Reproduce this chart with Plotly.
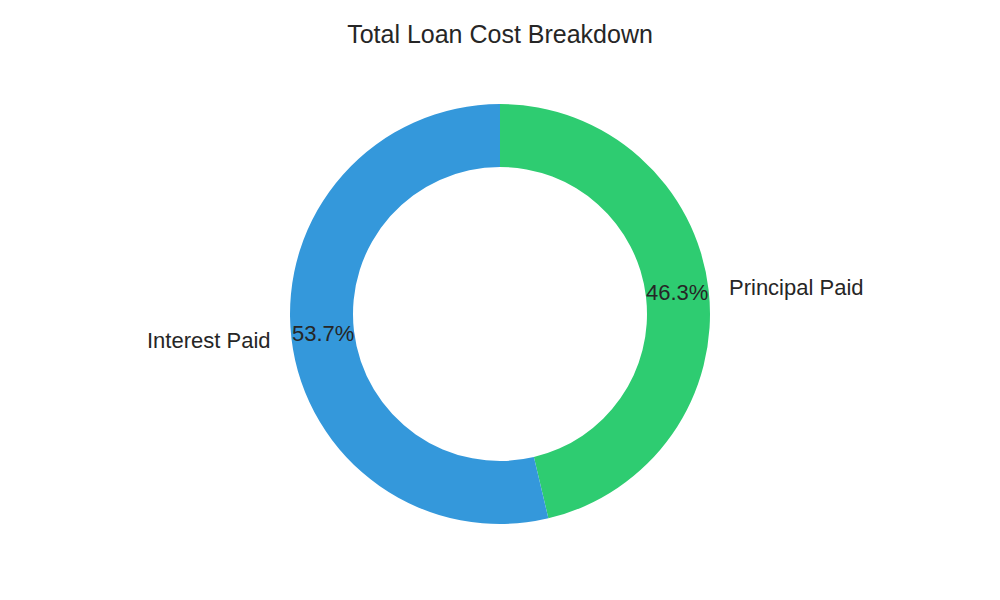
import math
import plotly.graph_objects as go

labels = ["Principal Paid", "Interest Paid"]
values = [46.3, 53.7]
colors = ["#2ecc71", "#3498db"]

title_text = "Total Loan Cost Breakdown"
text_color = "#262626"
font_family = "Liberation Sans, Arial, sans-serif"

W, H = 1000, 600
off = 8  # page body margin compensation
m_l, m_r = 0, 2 * off
m_t, m_b = 103 - off + 1, 77 + off - 1
plot_w = W - m_l - m_r
plot_h = H - m_t - m_b
radius = plot_h / 2
hole = 0.7

fig = go.Figure()
fig.add_trace(go.Pie(
    labels=labels,
    values=values,
    marker=dict(colors=colors, line=dict(width=0)),
    hole=hole,
    sort=False,
    direction="clockwise",
    rotation=0,
    textinfo="none",
    hoverinfo="label+percent",
    showlegend=False,
))

total = sum(values)
annotations = []
cum = 0.0
for lab, v in zip(labels, values):
    mid = cum + v / 2
    cum += v
    theta = math.radians(90 - 360 * mid / total)
    cx, cy = math.cos(theta), math.sin(theta)
    lx = 0.5 + 1.1 * radius * cx / plot_w
    ly = 0.5 + 1.1 * radius * cy / plot_h
    annotations.append(dict(
        x=lx, y=ly, xref="paper", yref="paper",
        text=lab, showarrow=False,
        xanchor="left" if cx > 0 else "right", yanchor="middle",
        xshift=-2 if cx > 0 else 2,
        font=dict(size=22, color=text_color, family=font_family),
    ))
    px = 0.5 + 0.85 * radius * cx / plot_w
    py = 0.5 + 0.85 * radius * cy / plot_h
    annotations.append(dict(
        x=px, y=py, xref="paper", yref="paper",
        text="%.1f%%" % (100 * v / total), showarrow=False,
        xanchor="center", yanchor="middle", yshift=1,
        font=dict(size=22, color=text_color, family=font_family),
    ))

fig.update_layout(
    width=W, height=H,
    margin=dict(l=m_l, r=m_r, t=m_t, b=m_b),
    paper_bgcolor="white",
    plot_bgcolor="white",
    title=dict(
        text=title_text, x=(W / 2 - off) / W, xanchor="center",
        y=1 - (34 - off) / H, yref="container", yanchor="middle",
        font=dict(size=25, color=text_color, family=font_family),
    ),
    annotations=annotations,
)

fig.write_html("out.html")
